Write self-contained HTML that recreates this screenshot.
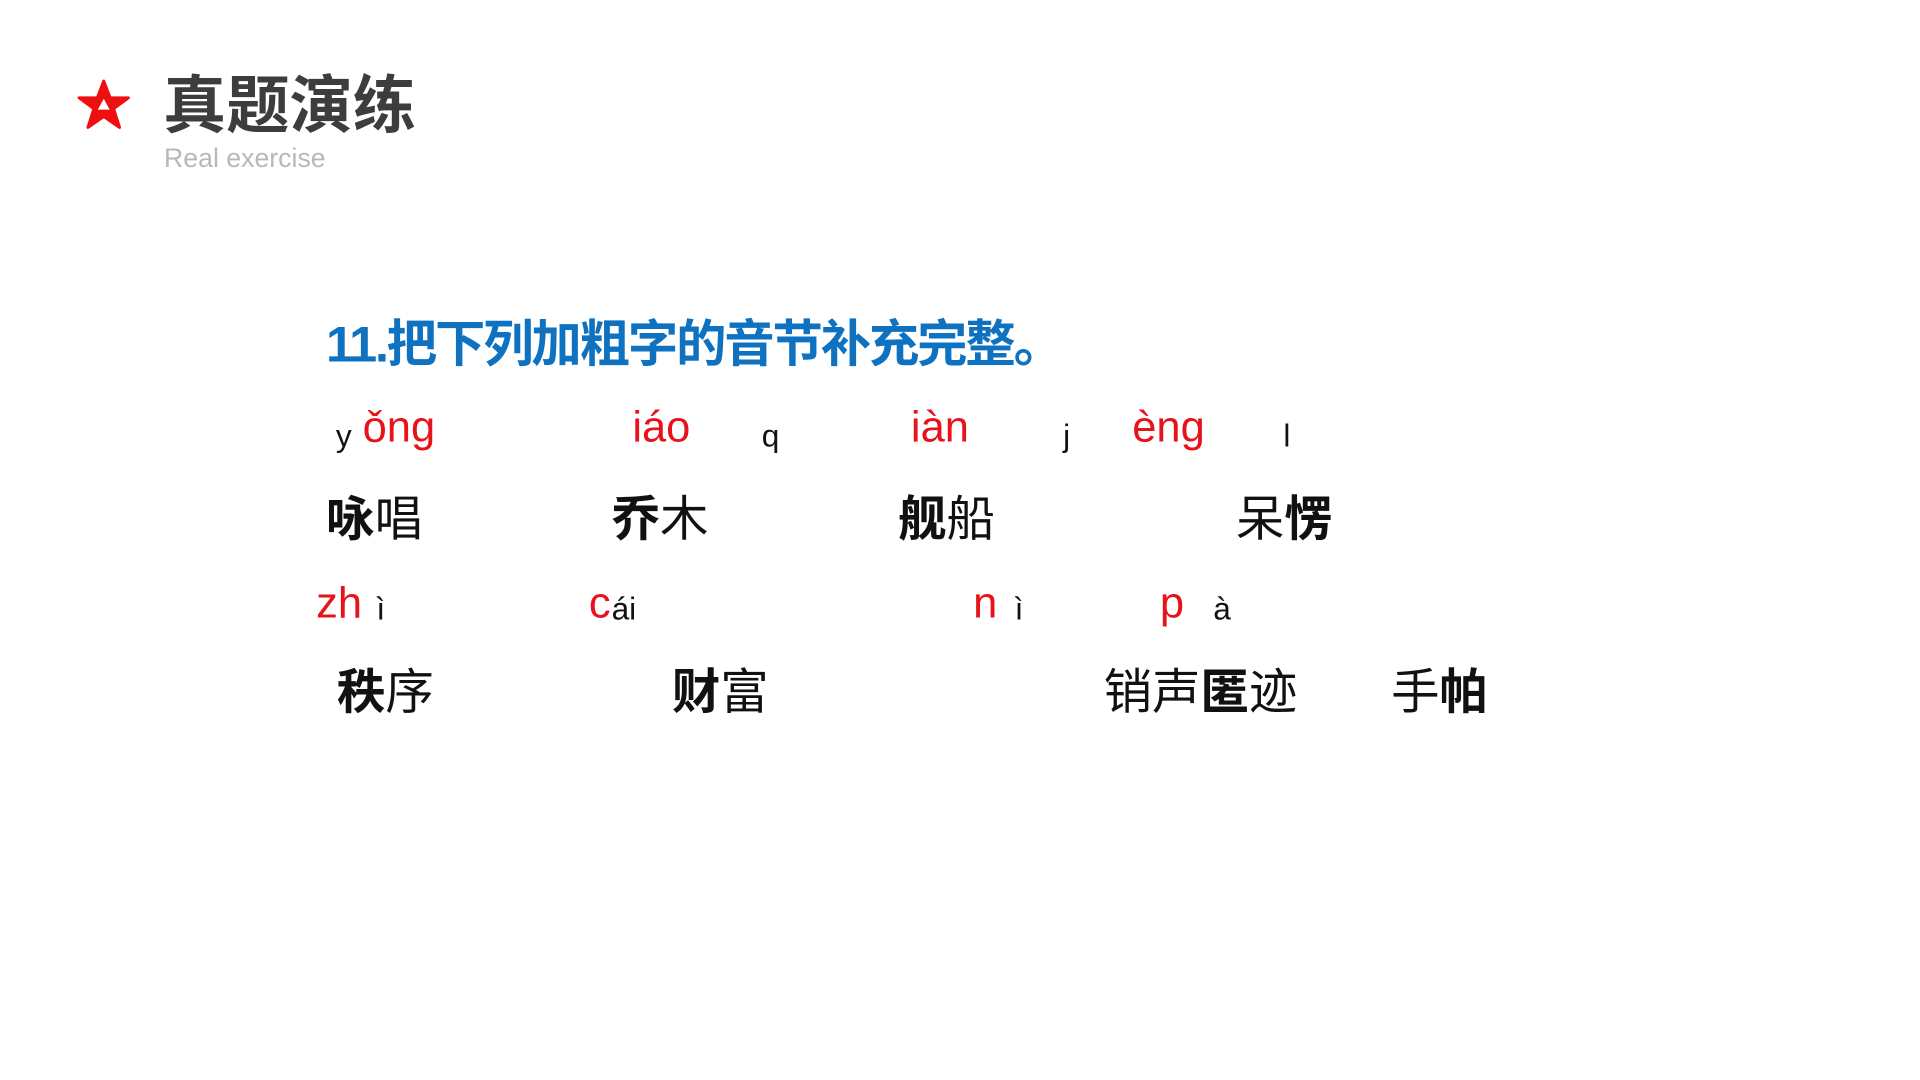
<!DOCTYPE html>
<html><head><meta charset="utf-8"><style>
body{margin:0;width:1920px;height:1080px;background:#fff;position:relative;overflow:hidden;font-family:"Liberation Sans","Noto Sans CJK SC",sans-serif}
#w{position:absolute;left:0;top:0;width:1920px;height:1080px;transform:scale(0.988);transform-origin:0 0}
.a{position:absolute;line-height:1;white-space:nowrap}
.r{color:#e8121b;font-size:44px}
.k{color:#111;font-size:32px}
.c{color:#111;font-size:49px;font-family:"Noto Sans CJK SC",sans-serif;font-weight:400}
.c b{font-weight:700}
</style></head><body><div id="w">
<svg class="a" style="left:77px;top:80px" width="56" height="52" viewBox="0 0 56 52">
<polygon points="28,2 34.5,19 53,19 38,30 44,49 28,38 12,49 18,30 3,19 21.5,19" fill="#ee1010" stroke="#ee1010" stroke-width="3" stroke-linejoin="round"/>
<polygon points="28,20 34,31 22,31" fill="#fff"/>
</svg>
<div class="a" style="left:165px;top:70px;font-size:64px;font-weight:700;color:#3d3d3d;font-family:'Noto Sans CJK SC',sans-serif">真题演练</div>
<div class="a" style="left:166px;top:147px;font-size:27px;color:#b8b8b8">Real exercise</div>
<div class="a" style="left:330px;top:323px;font-size:51px;font-weight:700;color:#0f72c0;font-family:'Liberation Sans','Noto Sans CJK SC',sans-serif;letter-spacing:-2.2px">11.把下列加粗字的音节补充完整。</div>

<div class="a k" style="left:340px;top:425px">y</div>
<div class="a r" style="left:367px;top:411px">ǒng</div>
<div class="a r" style="left:640px;top:411px">iáo</div>
<div class="a k" style="left:771px;top:425px">q</div>
<div class="a r" style="left:922px;top:411px">iàn</div>
<div class="a k" style="left:1076px;top:425px">j</div>
<div class="a r" style="left:1146px;top:411px">èng</div>
<div class="a k" style="left:1299px;top:425px">l</div>

<div class="a c" style="left:330px;top:497px"><b>咏</b>唱</div>
<div class="a c" style="left:619px;top:497px"><b>乔</b>木</div>
<div class="a c" style="left:909px;top:497px"><b>舰</b>船</div>
<div class="a c" style="left:1251px;top:497px">呆<b>愣</b></div>

<div class="a r" style="left:320px;top:589px">zh</div>
<div class="a k" style="left:381px;top:600px">ì</div>
<div class="a r" style="left:596px;top:589px">c</div>
<div class="a k" style="left:619px;top:600px">ái</div>
<div class="a r" style="left:985px;top:589px">n</div>
<div class="a k" style="left:1027px;top:600px">ì</div>
<div class="a r" style="left:1174px;top:589px">p</div>
<div class="a k" style="left:1228px;top:600px">à</div>

<div class="a c" style="left:341px;top:672px"><b>秩</b>序</div>
<div class="a c" style="left:680px;top:672px"><b>财</b>富</div>
<div class="a c" style="left:1117px;top:672px">销声<b>匿</b>迹</div>
<div class="a c" style="left:1408px;top:672px">手<b>帕</b></div>
</div></body></html>
